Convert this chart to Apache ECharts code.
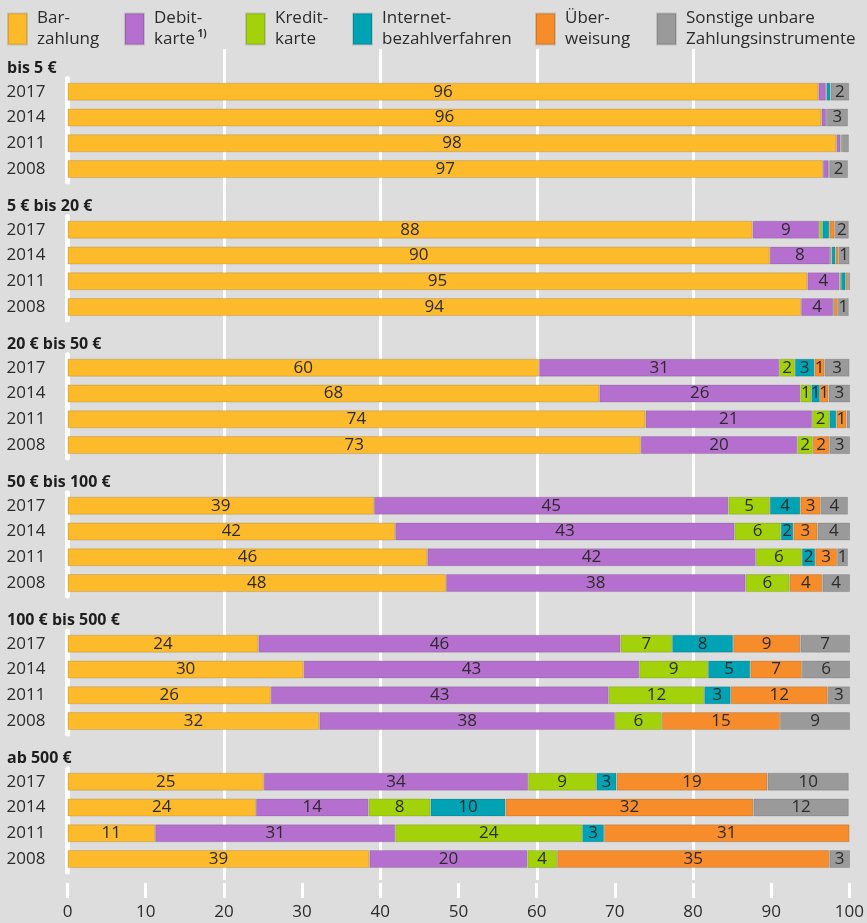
<!DOCTYPE html>
<html>
<head>
<meta charset="utf-8">
<script src="https://cdn.jsdelivr.net/npm/echarts@6/dist/echarts.min.js"></script>
<style>
  html, body { margin: 0; padding: 0; background: #dcdddc; }
  #main { width: 867px; height: 923px; }
</style>
</head>
<body>
<div id="main"></div>
<script>
// Jahre (von oben nach unten) und Betragsklassen
var years = ['2017', '2014', '2011', '2008'];
var groupLabels = ['bis 5 €', '5 € bis 20 €', '20 € bis 50 €', '50 € bis 100 €', '100 € bis 500 €', 'ab 500 €'];
var methodNames = ['Bar-\nzahlung', 'Debit-\nkarte', 'Kredit-\nkarte', 'Internet-\nbezahlverfahren', 'Über-\nweisung', 'Sonstige unbare\nZahlungsinstrumente'];
var colors = ['#fdbb2b', '#b570cf', '#a3d20b', '#00a3b4', '#f68c2a', '#9a9a9a'];
var xTicks = [0, 10, 20, 30, 40, 50, 60, 70, 80, 90, 100];

// Anteile in % je Betragsklasse: [2017, 2014, 2011, 2008]
var barzahlung = [
  [96.0, 96.4, 98.3, 96.6],
  [87.6, 89.8, 94.6, 93.8],
  [60.3, 68.0, 73.9, 73.3],
  [39.2, 41.9, 46.0, 48.4],
  [24.4, 30.2, 26.0, 32.2],
  [25.1, 24.1, 11.2, 38.6]
];
var debitkarte = [
  [0.95, 0.6, 0.55, 0.7],
  [8.5, 7.7, 4.1, 4.1],
  [30.7, 25.7, 21.3, 20.0],
  [45.3, 43.4, 42.0, 38.3],
  [46.3, 42.9, 43.2, 37.8],
  [33.8, 14.4, 30.7, 20.2]
];
var kreditkarte = [
  [0.1, 0, 0.17, 0.1],
  [0.4, 0.2, 0.2, 0.1],
  [2.0, 1.4, 2.2, 2.0],
  [5.3, 5.9, 5.9, 5.6],
  [6.6, 8.8, 12.2, 6.0],
  [8.7, 7.9, 23.9, 3.8]
];
var internet = [
  [0.5, 0.1, 0, 0],
  [0.9, 0.5, 0.6, 0],
  [2.5, 1.1, 0.9, 0],
  [3.9, 1.6, 1.7, 0],
  [7.8, 5.4, 3.4, 0],
  [2.6, 9.6, 2.8, 0]
];
var ueberweisung = [
  [0, 0, 0, 0],
  [0.7, 0.4, 0.3, 0.5],
  [1.3, 1.1, 1.3, 2.1],
  [2.6, 3.1, 2.8, 4.2],
  [8.6, 6.6, 12.4, 15.1],
  [19.3, 31.7, 31.4, 34.8]
];
var sonstige = [
  [2.4, 2.7, 0.9, 2.4],
  [1.8, 1.4, 0.4, 1.4],
  [3.2, 2.8, 0.5, 2.7],
  [3.5, 4.3, 1.4, 3.6],
  [6.5, 6.3, 2.9, 9.0],
  [10.4, 12.2, 0, 2.8]
];
var methodData = [barzahlung, debitkarte, kreditkarte, internet, ueberweisung, sonstige];

var FONT = '"Open Sans", "Noto Sans", sans-serif';
var TXT = '#2b2b2b';
var gLeft = 67.5, gRight = 17.4;
var rowTop = 78.8, groupStep = 138, groupHeight = 103.2;
var legendLeft = [7, 124, 245, 352, 535, 656];

var grids = [], xAxes = [], yAxes = [], series = [], titles = [];

groupLabels.forEach(function (label, g) {
  grids.push({ left: gLeft, right: gRight, top: rowTop + groupStep * g, height: groupHeight });
  xAxes.push({ gridIndex: g, type: 'value', min: 0, max: 100, show: false });
  yAxes.push({
    gridIndex: g, type: 'category', data: years, inverse: true,
    axisLine: { show: true, lineStyle: { color: '#ffffff', width: 5 } },
    axisTick: { show: false },
    axisLabel: { align: 'left', margin: 61, fontSize: 17, color: TXT, fontFamily: FONT }
  });
  titles.push({
    text: label, left: 7, top: 58 + groupStep * g, padding: 0,
    textStyle: { fontSize: 16, fontWeight: 'bold', color: '#1e1e1e', fontFamily: FONT, lineHeight: 20 }
  });
  methodNames.forEach(function (name, m) {
    series.push({
      name: name, type: 'bar', stack: 'g' + g,
      xAxisIndex: g, yAxisIndex: g, barWidth: 18,
      itemStyle: { color: colors[m], borderColor: 'rgba(0,0,0,0.13)', borderWidth: 1 },
      label: {
        show: true, position: 'inside', fontSize: 17, color: TXT, fontFamily: FONT,
        formatter: function (p) { return p.value >= 1 ? String(Math.round(p.value)) : ''; }
      },
      data: methodData[m][g].map(function (v) { return v > 0 ? v : '-'; })
    });
  });
});

// Hintergrund-Gitterlinien (20, 40, 60, 80)
grids.push({ left: gLeft, right: gRight, top: 49, height: 831 });
xAxes.push({
  gridIndex: 6, type: 'value', min: 0, max: 100, interval: 20,
  axisLine: { show: false }, axisTick: { show: false }, axisLabel: { show: false },
  splitLine: { show: true, showMinLine: false, showMaxLine: false, lineStyle: { color: '#ffffff', width: 3 } }
});
yAxes.push({ gridIndex: 6, type: 'value', show: false });

// untere Achse mit Skalenstrichen
grids.push({ left: gLeft, right: gRight, top: 870, height: 13 });
xAxes.push({
  gridIndex: 7, type: 'value', min: xTicks[0], max: xTicks[xTicks.length - 1], interval: xTicks[1] - xTicks[0],
  axisLine: { show: false, onZero: false },
  axisTick: { show: true, length: 15, lineStyle: { color: '#ffffff', width: 3 } },
  axisLabel: { margin: 21, fontSize: 17, color: TXT, fontFamily: FONT },
  splitLine: { show: false }
});
yAxes.push({ gridIndex: 7, type: 'value', show: false });

var legends = methodNames.map(function (name, i) {
  return {
    data: [name], left: legendLeft[i], top: 8, padding: 0, icon: 'rect',
    itemWidth: 19, itemHeight: 31, selectedMode: false,
    formatter: function (n) { return n === methodNames[1] ? 'Debit-\nkarte{sup| 1)}' : n; },
    textStyle: {
      fontSize: 17, lineHeight: 21, color: TXT, fontFamily: FONT, padding: [0, 0, 0, 5],
      rich: { sup: { fontSize: 10, lineHeight: 21, verticalAlign: 'top', padding: [0, 0, 8, 0], color: TXT, fontFamily: FONT, fontWeight: 'bold' } }
    }
  };
});

var myChart = echarts.init(document.getElementById('main'));
myChart.setOption({
  backgroundColor: '#dcdddc',
  animation: false,
  color: colors,
  title: titles,
  legend: legends,
  grid: grids,
  xAxis: xAxes,
  yAxis: yAxes,
  series: series
});
</script>
</body>
</html>
